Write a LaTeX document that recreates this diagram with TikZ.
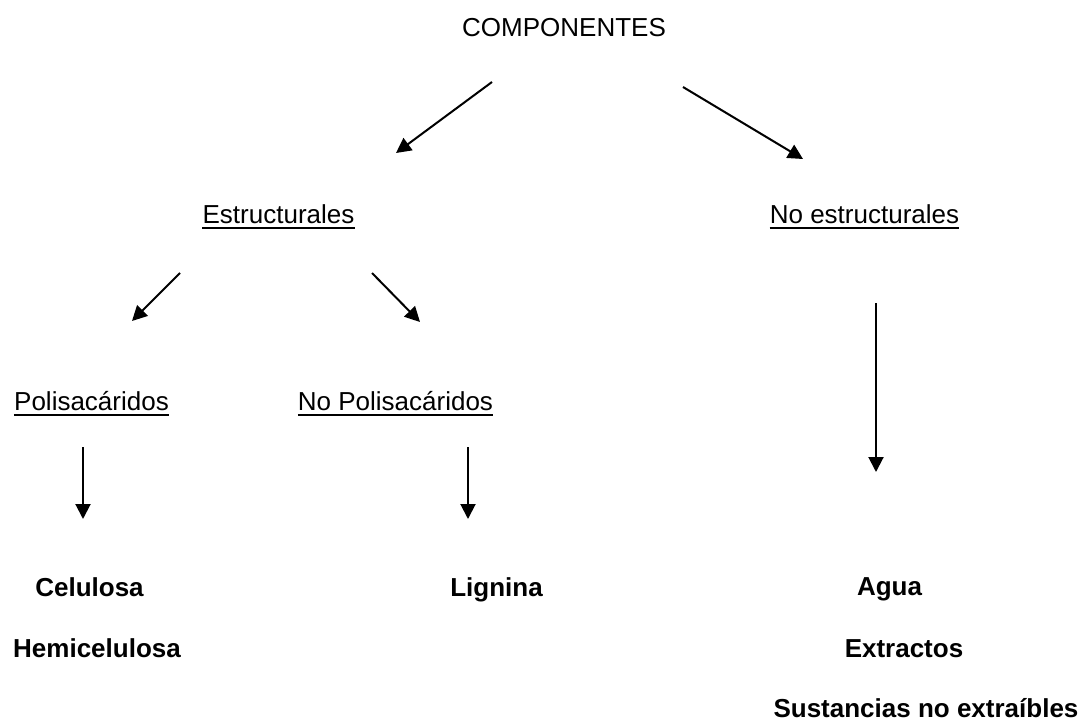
\documentclass[tikz,border=0pt]{standalone}
\usepackage{fontspec}
\setmainfont{Liberation Sans}
\usepackage{tikz}
\usetikzlibrary{arrows.meta, positioning}

\tikzset{
  lbl/.style={inner sep=0pt, anchor=base, font=\fontsize{26}{31}\selectfont},
  leaf/.style={lbl, font=\fontsize{26}{31}\selectfont\bfseries},
  arr/.style={-{Triangle[length=15pt, width=15pt]}, line width=2pt},
}

\begin{document}
\begin{tikzpicture}[x=1pt, y=-1pt]
  \useasboundingbox (0,0) rectangle (1084,722);

  % Root
  \node[lbl] (comp) at (564, 37) {COMPONENTES};

  % Second level
  \node[lbl] (estr) at (278.5, 223) {Estructurales};
  \node[lbl] (noestr) at (864.5, 223) {No estructurales};

  % Third level
  \node[lbl] (polis) at (91.5, 410) {Polisacáridos};
  \node[lbl] (nopolis) at (395.5, 410) {No Polisacáridos};

  % Leaves
  \node[leaf] (celul) at (89.5, 596) {Celulosa};
  \node[leaf] (hemi) at (97, 657) {Hemicelulosa};
  \node[leaf] (lign) at (496.5, 596) {Lignina};
  \node[leaf] (agua) at (889.5, 595) {Agua};
  \node[leaf] (extr) at (904, 657) {Extractos};
  \node[leaf] (sust) at (926, 717) {Sustancias no extraíbles};

  % Underlines
  \foreach \n in {estr, noestr, polis, nopolis}
    \draw[line width=2pt] ([yshift=-5pt]\n.base west) -- ([yshift=-5pt]\n.base east);

  % Arrow ends
  \coordinate (c1a) at (492, 82);  \coordinate (c1b) at (396, 153);
  \coordinate (c2a) at (683, 87);  \coordinate (c2b) at (803, 159);
  \coordinate (c3a) at (180, 273); \coordinate (c3b) at (132, 321);
  \coordinate (c4a) at (372, 273); \coordinate (c4b) at (420, 322);
  \coordinate (c5a) at (83, 447);  \coordinate (c5b) at (83, 519);
  \coordinate (c6a) at (468, 447); \coordinate (c6b) at (468, 519);
  \coordinate (c7a) at (876, 303); \coordinate (c7b) at (876, 472);

  % Arrows
  \foreach \i in {1,...,7}
    \draw[arr] (c\i a) -- (c\i b);
\end{tikzpicture}
\end{document}
